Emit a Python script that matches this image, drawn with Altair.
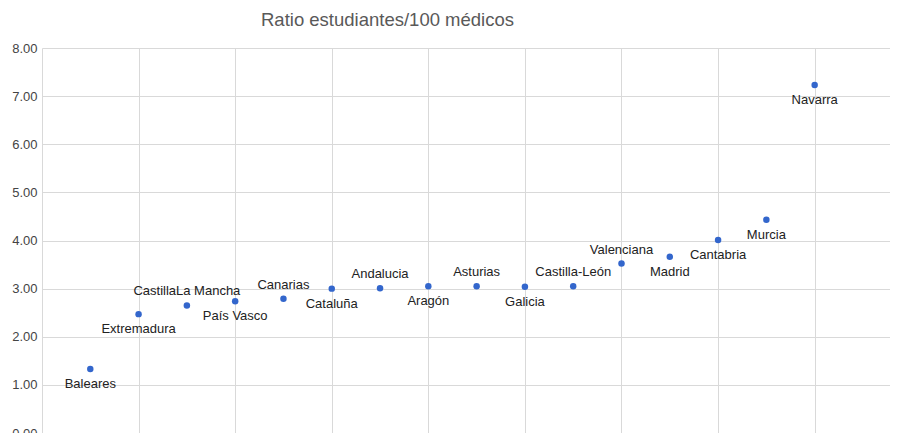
import altair as alt
import pandas as pd

regions = ["Baleares", "Extremadura", "CastillaLa Mancha", "País Vasco", "Canarias",
           "Cataluña", "Andalucia", "Aragón", "Asturias", "Galicia", "Castilla-León",
           "Valenciana", "Madrid", "Cantabria", "Murcia", "Navarra"]
ratio = [1.33, 2.47, 2.65, 2.74, 2.79, 3.00, 3.01, 3.05, 3.05, 3.04, 3.05,
         3.52, 3.66, 4.01, 4.43, 7.23]
label_side = ["below", "below", "above", "below", "above", "below", "above", "below",
              "above", "below", "above", "above", "below", "below", "below", "below"]

df = pd.DataFrame({
    "idx": list(range(1, len(regions) + 1)),
    "region": regions,
    "ratio": ratio,
    "side": label_side,
})

FONT = "Liberation Sans"

x_enc = alt.X("idx:Q", scale=alt.Scale(domain=[0, 17.56], nice=False, zero=False),
              axis=alt.Axis(values=[0, 2, 4, 6, 8, 10, 12, 14, 16], labels=False, ticks=False,
                            domain=False, grid=True, gridColor="#d9d9d9", title=None))
y_enc = alt.Y("ratio:Q", scale=alt.Scale(domain=[0, 8], nice=False),
              axis=alt.Axis(values=[0, 1, 2, 3, 4, 5, 6, 7, 8], format=".2f", ticks=False,
                            domain=False, grid=True, gridColor="#d9d9d9", title=None,
                            labelFont=FONT, labelFontSize=13, labelColor="#444444",
                            labelPadding=5))

base = alt.Chart(df)

points = base.mark_circle(size=42, color="#3366cc", opacity=1).encode(x=x_enc, y=y_enc)

above = base.transform_filter(alt.datum.side == "above").mark_text(
    dy=-14, font=FONT, fontSize=13, color="#222222").encode(
    x="idx:Q", y="ratio:Q", text="region:N")
below = base.transform_filter(alt.datum.side == "below").mark_text(
    dy=15, font=FONT, fontSize=13, color="#222222").encode(
    x="idx:Q", y="ratio:Q", text="region:N")

chart = alt.layer(points, above, below).properties(
    width=848, height=385,
    padding={"left": 34, "top": 40, "right": 0, "bottom": 0},
    autosize=alt.AutoSizeParams(type="none"),
    title=alt.Title("Ratio estudiantes/100 médicos", anchor="start", frame="group", dx=219,
                    fontSize=18.5, font=FONT, fontWeight="normal", color="#595959",
                    offset=13),
).configure_view(stroke=None)

chart.save("out.html", embed_options={"renderer": "svg", "actions": False})
